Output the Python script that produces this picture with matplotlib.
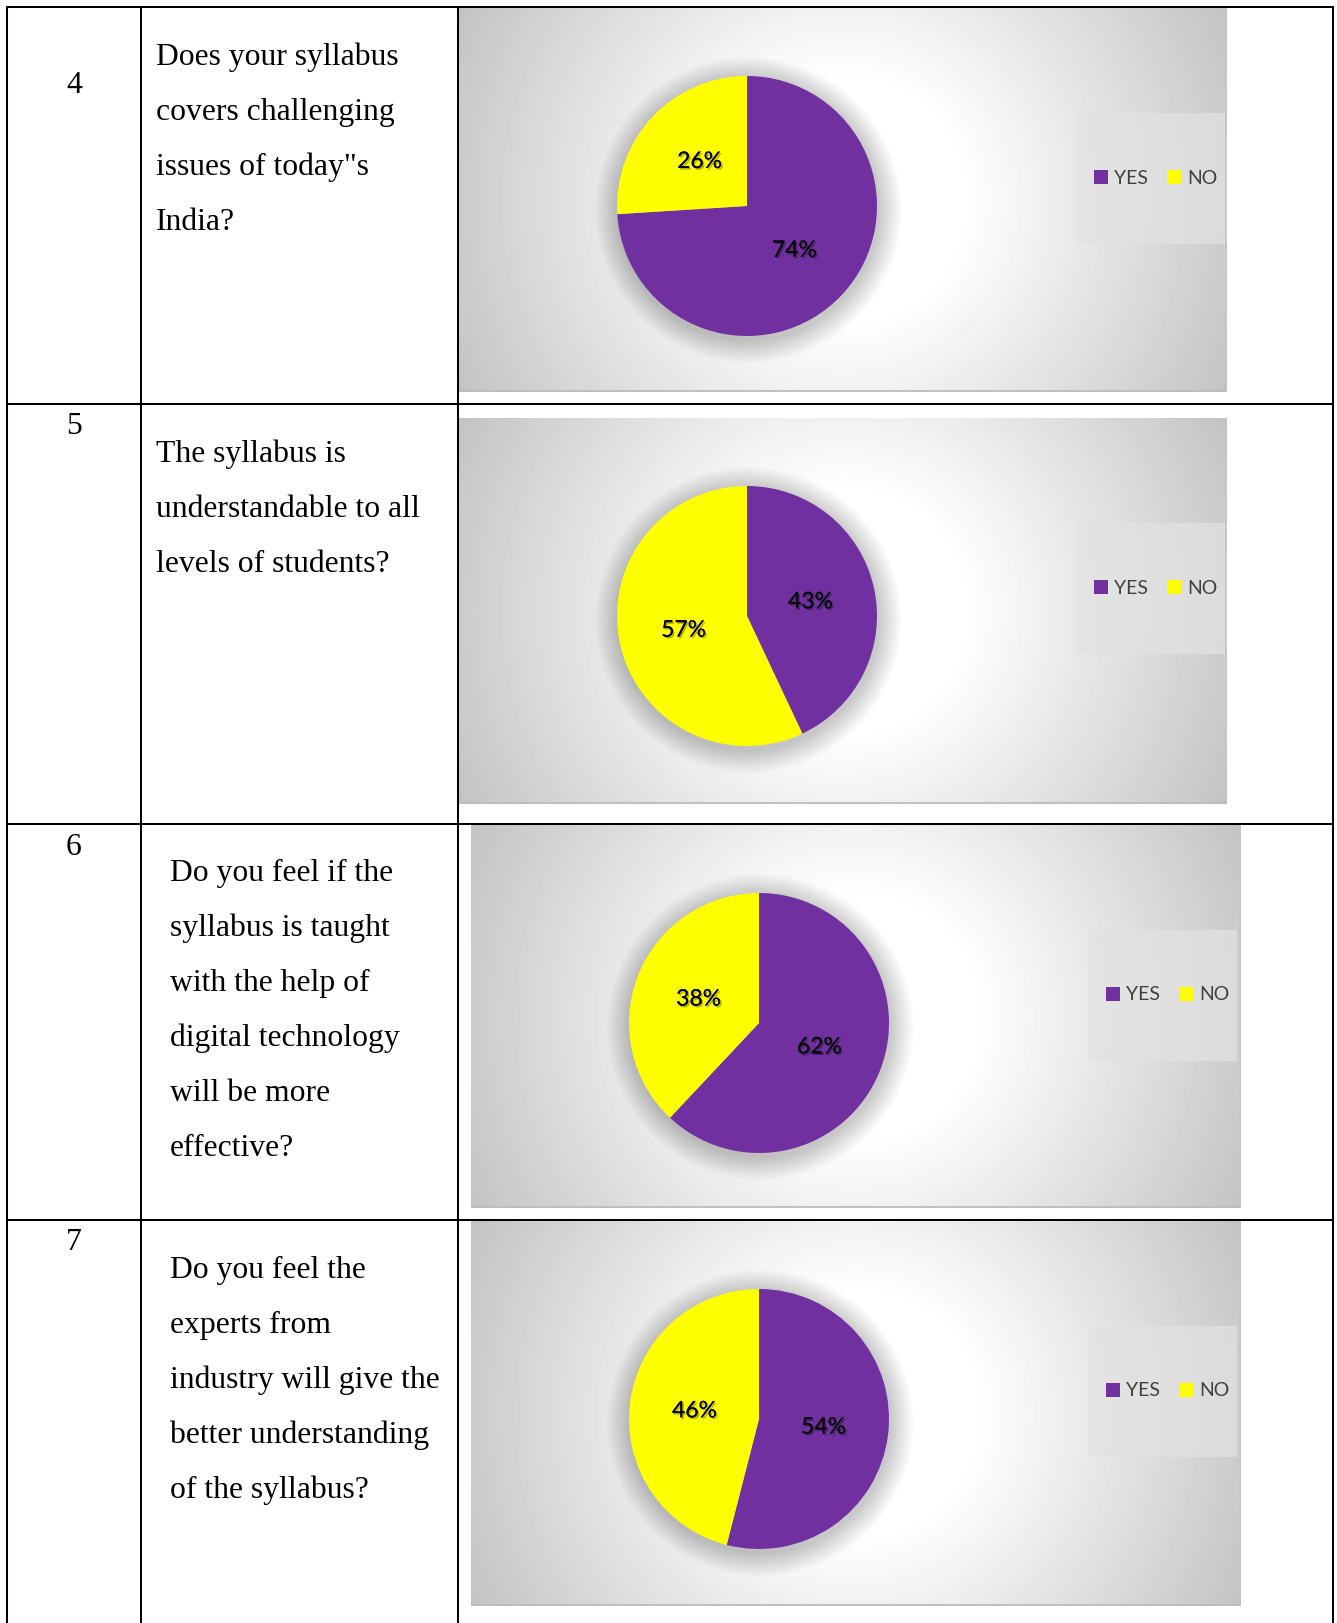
import numpy as np
import matplotlib
matplotlib.use("Agg")
import matplotlib.pyplot as plt
from matplotlib.patches import Rectangle, Circle
import matplotlib.patheffects as pe

# ---------------- data ----------------
row_numbers = ["4", "5", "6", "7"]
questions = [
    ["Does your syllabus", "covers challenging", "issues of today\"s", "India?"],
    ["The syllabus is", "understandable to all", "levels of students?"],
    ["Do you feel if the", "syllabus is taught", "with the help of", "digital technology",
     "will be more", "effective?"],
    ["Do you feel the", "experts from", "industry will give the", "better understanding",
     "of the syllabus?"],
]
categories = ["YES", "NO"]
yes_pct = [74, 43, 62, 54]
no_pct = [26, 57, 38, 46]
slice_colors = ["#7030A0", "#FFFF00"]

# ---------------- layout (pixels) ----------------
W, H = 1337, 1623
fig = plt.figure(figsize=(W / 100, H / 100), dpi=100)
fig.patch.set_facecolor("white")

def px_axes(x0, y0, x1, y1, z=1):
    return fig.add_axes([x0 / W, 1 - y1 / H, (x1 - x0) / W, (y1 - y0) / H], zorder=z)

# table geometry
row_tops = [7, 404, 824, 1220]
row_bottom = H + 5
col_x = [7, 141, 458, 1333]
num_baselines = [93, 434, 855, 1250]
text_x = [156, 156, 170, 170]
text_first_baseline = [65, 462, 881, 1278]
line_step = 55
chart_rects = [(459, 8, 1227, 392), (459, 418, 1227, 804),
               (471, 825, 1241, 1208), (471, 1221, 1241, 1606)]
pie_rel = (288, 198)
pie_r = 130
legend_box_rel = (617, 105, 766, 236)
legend_anchor_rel = (635, 170)

serif = "Liberation Serif"
sans = ["Lato", "Open Sans", "DejaVu Sans"]
text_size = 22.8

for i in range(4):
    x0, y0, x1, y1 = chart_rects[i]
    w, h = x1 - x0, y1 - y0
    cax = px_axes(x0, y0, x1, y1, z=1)
    cax.set_xlim(0, w)
    cax.set_ylim(h, 0)
    cax.axis("off")
    # radial gradient background
    yy, xx = np.mgrid[0:h, 0:w]
    d = np.hypot(xx - w / 2, yy - h / 2)
    t = np.clip((d - 120) / 310, 0, 1.2)
    val = 255 - 60 * t
    cax.imshow(val, cmap="gray", vmin=0, vmax=255, extent=[0, w, h, 0],
               interpolation="bilinear", aspect="auto", zorder=0)
    # bottom/right edge
    cax.plot([0, w], [h - 0.6, h - 0.6], color="#bcbcbc", lw=1.3, zorder=2,
             solid_capstyle="butt")
    cax.plot([w - 0.6, w - 0.6], [0, h], color="#c4c4c4", lw=1.0, zorder=2)
    # legend box
    lx0, ly0, lx1, ly1 = legend_box_rel
    cax.add_patch(Rectangle((lx0, ly0), lx1 - lx0, ly1 - ly0, facecolor="#e2e2e2",
                            alpha=0.7, edgecolor="none", zorder=1))

    # pie axes
    pcx, pcy = x0 + pie_rel[0], y0 + pie_rel[1]
    ext = 1.3
    half = pie_r * ext
    pax = px_axes(pcx - half, pcy - half, pcx + half, pcy + half, z=2)
    pax.axis("off")
    nsh = 18
    for k in range(nsh):
        rr = 1.0 + 0.18 * (k + 1) / nsh
        pax.add_patch(Circle((0.01, -0.03), rr, facecolor="black", alpha=0.011,
                             edgecolor="none", zorder=0))
    wedges, _, autotexts = pax.pie(
        [yes_pct[i], no_pct[i]], colors=slice_colors, startangle=90,
        counterclock=False, radius=1.0, autopct="%1.0f%%", pctdistance=0.5,
        wedgeprops=dict(edgecolor="none", linewidth=0),
        textprops=dict(fontsize=16.5, color="black", family=sans))
    for wdg in wedges:
        wdg.set_zorder(1)
    for at in autotexts:
        at.set_zorder(3)
        at.set_path_effects([pe.withSimplePatchShadow(offset=(1.2, -1.2),
                                                      shadow_rgbFace="black", alpha=0.3),
                             pe.Normal()])
    pax.set_xlim(-ext, ext)
    pax.set_ylim(-ext, ext)

    # legend
    cax.legend(wedges, categories, ncol=2, frameon=False, loc="center left",
               bbox_to_anchor=(legend_anchor_rel[0] / w, 1 - legend_anchor_rel[1] / h),
               borderpad=0, borderaxespad=0, handlelength=0.72, handleheight=0.72,
               handletextpad=0.32, columnspacing=0.95,
               prop=dict(family=sans, size=14), labelcolor="#404040")

# overlay axes for table lines & text
ov = fig.add_axes([0, 0, 1, 1], zorder=5)
ov.set_xlim(0, W)
ov.set_ylim(H, 0)
ov.axis("off")
ov.patch.set_alpha(0)
lw = 1.45
for yt in row_tops:
    ov.plot([col_x[0] - 1, col_x[-1] + 1], [yt, yt], color="black", lw=lw,
            solid_capstyle="butt")
for xc in col_x:
    ov.plot([xc, xc], [row_tops[0] - 1, row_bottom], color="black", lw=lw,
            solid_capstyle="butt")

for i in range(4):
    ov.text(74, num_baselines[i], row_numbers[i], family=serif, fontsize=text_size,
            ha="center", va="baseline", color="black")
    for j, line in enumerate(questions[i]):
        ov.text(text_x[i], text_first_baseline[i] + j * line_step, line, family=serif,
                fontsize=text_size, ha="left", va="baseline", color="black")

fig.savefig("out.png", dpi=100, facecolor="white")
